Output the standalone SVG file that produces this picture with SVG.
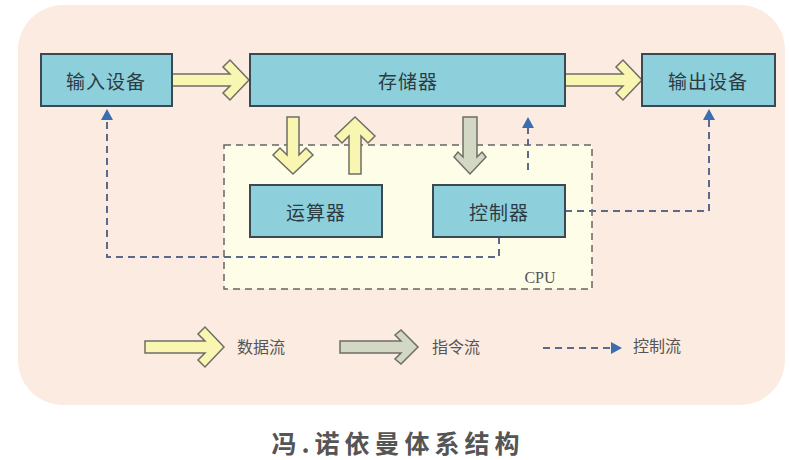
<svg xmlns="http://www.w3.org/2000/svg" width="790" height="460" viewBox="0 0 790 460">
<style>
.box{fill:#8ecfdc;stroke:#3b4a52;stroke-width:2}
.lbl{font-family:"Noto Sans CJK SC","Noto Sans",sans-serif;font-size:19px;fill:#2b3b42;text-anchor:middle;dominant-baseline:central;letter-spacing:1px}
.leg{font-family:"Noto Sans CJK SC","Noto Sans",sans-serif;font-size:16px;fill:#555;dominant-baseline:central}
.data{fill:#f8f6b0;stroke:#6e6e66;stroke-width:1.5;stroke-linejoin:miter}
.inst{fill:#d3d8c4;stroke:#6e6e66;stroke-width:1.5}
.ctl{fill:none;stroke:#5b6a8a;stroke-width:2;stroke-dasharray:7 5}
</style>
<defs>
<marker id="ah" markerUnits="userSpaceOnUse" markerWidth="12" markerHeight="12" refX="0" refY="6" orient="auto">
<path d="M0,0 L11,6 L0,12 Z" fill="#3a6eb0"/>
</marker>
</defs>
<rect x="0" y="0" width="790" height="460" fill="#ffffff"/>
<rect x="18" y="5" width="767" height="400" rx="45" fill="#fcebe0"/>
<g id="cpu">
<rect x="224" y="145" width="368" height="144" fill="#fdfde8" stroke="#666" stroke-width="1.5" stroke-dasharray="7 5"/>
<text x="540" y="277" font-family="Liberation Serif,serif" font-size="16" fill="#555" text-anchor="middle" dominant-baseline="central">CPU</text>
</g>
<g id="connectors">
<path class="data" d="M172,74 H230 L223,67 L230,60 L249,80 L230,100 L223,93 L230,86 H172 Z"/>
<path class="data" d="M565,74 H623 L616,67 L623,60 L642,80 L623,100 L616,93 L623,86 H565 Z"/>
<path class="data" d="M287,117 V155 L280,148 L273,155 L293,174 L313,155 L306,148 L299,155 V117 Z"/>
<path class="data" d="M349,174 V136 L342,143 L335,136 L355,117 L375,136 L368,143 L361,136 V174 Z"/>
<path class="inst" d="M463,117 V157 L458,152 L454,157 L470,174 L486,157 L482,152 L477,157 V117 Z"/>
<path class="ctl" d="M499,237 V257 H107 V120" marker-end="url(#ah)"/>
<path class="ctl" d="M565,211 H709 V120" marker-end="url(#ah)"/>
<path class="ctl" d="M528,170 V128" marker-end="url(#ah)"/>
</g>
<g id="input"><rect class="box" x="41" y="54" width="131" height="52"/><text class="lbl" x="106" y="80">输入设备</text></g>
<g id="memory"><rect class="box" x="250" y="54" width="315" height="52"/><text class="lbl" x="408" y="80">存储器</text></g>
<g id="output"><rect class="box" x="642" y="54" width="133" height="52"/><text class="lbl" x="708" y="80">输出设备</text></g>
<g id="alu"><rect class="box" x="250" y="185" width="132" height="52"/><text class="lbl" x="316" y="211">运算器</text></g>
<g id="control"><rect class="box" x="433" y="185" width="132" height="52"/><text class="lbl" x="499" y="211">控制器</text></g>
<g id="legend">
<path class="data" d="M145,341 H205 L198,334 L205,327 L224,347 L205,367 L198,360 L205,353 H145 Z"/>
<text class="leg" x="237" y="346">数据流</text>
<path class="inst" d="M340,341 H401 L395,335 L401,330 L418,347 L401,364 L395,359 L401,353 H340 Z"/>
<text class="leg" x="432" y="346">指令流</text>
<path class="ctl" d="M543,348 H611" marker-end="url(#ah)"/>
<text class="leg" x="633" y="345">控制流</text>
</g>
<text x="398" y="442" font-family="Noto Sans CJK SC,Noto Sans,sans-serif" font-size="25" font-weight="bold" fill="#555" text-anchor="middle" dominant-baseline="central" letter-spacing="5">冯.诺依曼体系结构</text>
</svg>
